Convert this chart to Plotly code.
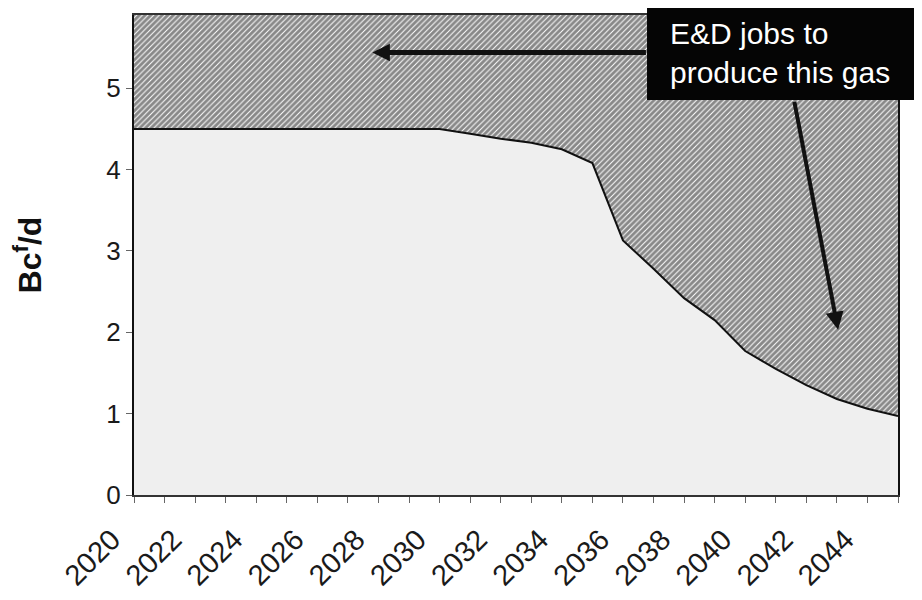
import plotly.graph_objects as go

years = [2020, 2021, 2022, 2023, 2024, 2025, 2026, 2027, 2028, 2029, 2030, 2031, 2032,
         2033, 2034, 2035, 2036, 2037, 2038, 2039, 2040, 2041, 2042, 2043, 2044, 2045]
production = [4.50, 4.50, 4.50, 4.50, 4.50, 4.50, 4.50, 4.50, 4.50, 4.50, 4.50, 4.44, 4.38,
              4.33, 4.25, 4.08, 3.13, 2.78, 2.42, 2.15, 1.77, 1.55, 1.35, 1.18, 1.06, 0.97]
total = [5.9, 5.9, 5.9, 5.9, 5.9, 5.9, 5.9, 5.9, 5.9, 5.9, 5.9, 5.9, 5.9,
         5.9, 5.9, 5.9, 5.9, 5.9, 5.9, 5.9, 5.9, 5.9, 5.9, 5.9, 5.9, 5.9]
x_ticks = [2020, 2022, 2024, 2026, 2028, 2030, 2032, 2034, 2036, 2038, 2040, 2042, 2044]
y_ticks = [0, 1, 2, 3, 4, 5]
note_text = "E&D jobs to<br>produce this gas"
y_title = "<b>Bc<sup>f</sup>/d</b>"

FONT = "Liberation Sans, Arial, sans-serif"

fig = go.Figure()
fig.add_trace(go.Scatter(
    x=years, y=production, mode="lines", fill="tozeroy",
    fillcolor="#efefef", line=dict(color="#111111", width=2),
    showlegend=False, hoverinfo="skip"))
fig.add_trace(go.Scatter(
    x=years, y=total, mode="lines", fill="tonexty",
    fillcolor="white",
    fillpattern=dict(shape="/", fgcolor="#111111", bgcolor="white", size=4, solidity=0.75),
    line=dict(color="#111111", width=0),
    showlegend=False, hoverinfo="skip"))

# black note box
fig.add_shape(type="rect", xref="paper", yref="paper",
              x0=0.6715, x1=1.04, y0=0.823, y1=1.021,
              fillcolor="#050505", line=dict(width=0), layer="above")

# arrows
fig.add_annotation(x=2027.8, y=5.44, ax=2036.8, ay=5.44, xref="x", yref="y",
                   axref="x", ayref="y", text="", showarrow=True,
                   arrowhead=2, arrowsize=0.7, arrowwidth=5, arrowcolor="#111111")
fig.add_annotation(x=2043.04, y=2.03, ax=2041.6, ay=4.85, xref="x", yref="y",
                   axref="x", ayref="y", text="", showarrow=True,
                   arrowhead=2, arrowsize=0.9, arrowwidth=4, arrowcolor="#111111")

fig.add_annotation(x=0.699, y=1.0, xref="paper", yref="paper",
                   xanchor="left", yanchor="top", align="left",
                   text=note_text, showarrow=False,
                   font=dict(family=FONT, size=30, color="white"))

fig.update_layout(
    width=914, height=592,
    margin=dict(l=126, r=24, t=7, b=105),
    paper_bgcolor="white", plot_bgcolor="white",
    font=dict(family=FONT, color="#1a1a1a"),
    xaxis=dict(range=[2020, 2045], tickvals=x_ticks, ticktext=[str(v) for v in x_ticks],
               tickangle=-45, tickfont=dict(size=29, family=FONT, color="#1a1a1a"),
               ticks="outside", ticklen=6, tickcolor="#666666", tickwidth=1,
               ticklabelstandoff=8, ticklabelshift=-22,
               minor=dict(dtick=1, tick0=2020, ticks="outside", ticklen=6,
                          tickcolor="#666666", tickwidth=1),
               showgrid=False, zeroline=False, automargin=False,
               showline=True, linecolor="#333333", linewidth=2, mirror=True),
    yaxis=dict(range=[0, 5.9], tickvals=y_ticks,
               tickfont=dict(size=26, family=FONT, color="#1a1a1a"),
               ticks="outside", ticklen=6, tickcolor="#666666", tickwidth=1,
               showgrid=False, zeroline=False, automargin=False,
               showline=True, linecolor="#111111", linewidth=2, mirror=True,
               title=dict(text=y_title, font=dict(size=32, family=FONT, color="#111111"),
                          standoff=63)),
)

fig.write_html("out.html")
